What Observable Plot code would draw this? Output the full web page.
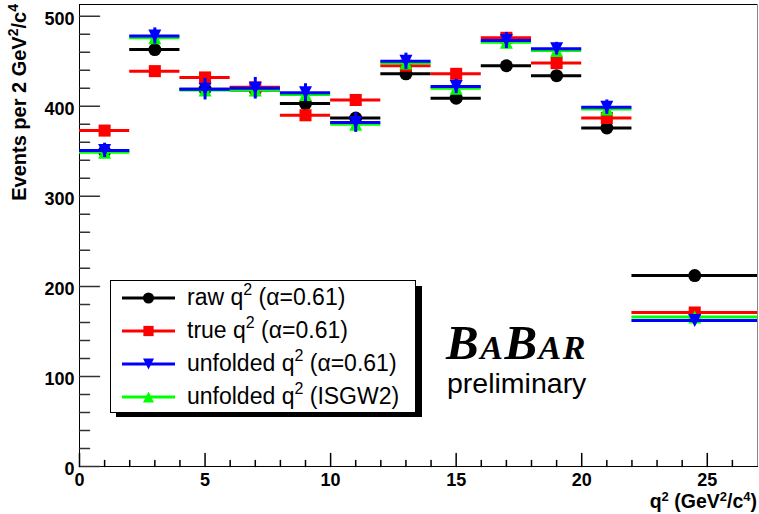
<!DOCTYPE html>
<html><head><meta charset="utf-8">
<script src="https://cdn.jsdelivr.net/npm/d3@7"></script>
<script src="https://cdn.jsdelivr.net/npm/@observablehq/plot@0.6"></script>
<style>body{margin:0;background:#fff;} #chart svg{display:block;}</style>
</head><body><div id="chart"></div>
<script>
// ---- data ----
const binLo     = [0, 2, 4, 6, 8, 10, 12, 14, 16, 18, 20, 22];
const binHi     = [2, 4, 6, 8, 10, 12, 14, 16, 18, 20, 22, 27];
const binCenter = [1, 3, 5, 7, 9, 11, 13, 15, 17, 19, 21, 24.5];
const rawQ2      = [350, 463, 419, 418, 403, 387, 436, 409, 445, 434, 376, 212];
const trueQ2     = [373, 439, 432, 421, 390, 407, 445, 436, 476, 448, 387, 171];
const isgw2Q2    = [349, 476, 418, 418, 413, 380, 448, 420, 471, 462, 397, 166];
const unfoldedQ2 = [351, 478, 419, 420, 415, 382, 450, 422, 473, 464, 399, 162];
const unfoldedErr = [8, 9, 12, 12, 10, 11, 9, 8, 9, 7, 8, 4];
const xDomain = [0, 27];
const yDomain = [0, 513];
const xMajorTicks = [0, 5, 10, 15, 20, 25];
const xMinorTicks = d3.range(1, 27).filter(v => v % 5 !== 0);
const yMajorTicks = [0, 100, 200, 300, 400, 500];
const yMinorTicks = d3.range(20, 513, 20).filter(v => v % 100 !== 0);

// ---- symbols ----
const triDown = {draw(ctx, size) { const r = Math.sqrt(size / Math.PI); ctx.moveTo(-r, -r); ctx.lineTo(r, -r); ctx.lineTo(0, r); ctx.closePath(); }};
const triUp   = {draw(ctx, size) { const r = Math.sqrt(size / Math.PI); ctx.moveTo(-r, r); ctx.lineTo(r, r); ctx.lineTo(0, -r); ctx.closePath(); }};
const hTick = {draw(ctx, l) { ctx.moveTo(0, 0); ctx.lineTo(l, 0); }};
const vTick = {draw(ctx, l) { ctx.moveTo(0, 0); ctx.lineTo(0, -l); }};

function rows(values, errs) {
  return values.map((v, i) => ({lo: binLo[i], hi: binHi[i], c: binCenter[i], v, e: errs ? errs[i] : 0}));
}
const series = [
  {data: rows(rawQ2), color: "#000000", symbol: "circle", r: 6.5},
  {data: rows(trueQ2), color: "#ff0000", symbol: "square", r: 6.8},
  {data: rows(isgw2Q2), color: "#00ff00", symbol: triUp, r: 6.5},
  {data: rows(unfoldedQ2, unfoldedErr), color: "#0000ff", symbol: triDown, r: 6.5, err: true}
];

const FONT = "Liberation Sans, Arial, Helvetica, sans-serif";
const marks = [
  Plot.frame({stroke: "#000", strokeWidth: 1}),
  Plot.ruleX([xDomain[1]], {stroke: "#888"}),
  Plot.vectorY(yMajorTicks, {y: d => d, frameAnchor: "left", length: 20, anchor: "start", shape: hTick, stroke: "#333"}),
  Plot.vectorY(yMinorTicks, {y: d => d, frameAnchor: "left", length: 10, anchor: "start", shape: hTick, stroke: "#333"}),
  Plot.vectorX(xMajorTicks, {x: d => d, frameAnchor: "bottom", length: 13, anchor: "start", shape: vTick, stroke: "#000"}),
  Plot.vectorX(xMinorTicks, {x: d => d, frameAnchor: "bottom", length: 6, anchor: "start", shape: vTick, stroke: "#000"}),
  Plot.axisY(yMajorTicks, {tickSize: 0, tickPadding: 5, dy: 3, fontSize: 18, fontWeight: "bold", fontFamily: FONT, label: null}),
  Plot.axisX(xMajorTicks, {tickSize: 0, tickPadding: 7, fontSize: 18, fontWeight: "bold", fontFamily: FONT, label: null})
];
for (const s of series) {
  marks.push(Plot.ruleY(s.data, {y: "v", x1: "lo", x2: "hi", stroke: s.color, strokeWidth: 3}));
  if (s.err) marks.push(Plot.ruleX(s.data, {x: "c", y1: d => d.v - d.e, y2: d => d.v + d.e, stroke: s.color, strokeWidth: 3}));
  marks.push(Plot.dot(s.data, {x: "c", y: "v", r: s.r, symbol: s.symbol, fill: s.color, stroke: "none"}));
}

const chart = Plot.plot({
  width: 759, height: 514,
  marginLeft: 79, marginRight: 2, marginTop: 4, marginBottom: 48,
  style: {background: "#fff", color: "#000"},
  x: {domain: xDomain, axis: null},
  y: {domain: yDomain, axis: null},
  marks
});
document.getElementById("chart").appendChild(chart);

// ---- annotations (text) ----
const svg = d3.select(chart);
function rich(g, x, y, parts, size, attrs = {}, raiseK = 0.42) {
  const t = g.append("text").attr("x", x).attr("y", y).attr("font-size", size)
    .attr("font-family", FONT).attr("fill", "#000").attr("text-anchor", "start");
  for (const k in attrs) t.attr(k, attrs[k]);
  let raised = 0;
  for (const p of parts) {
    const sp = t.append("tspan");
    if (typeof p === "string") {
      if (raised) { sp.attr("dy", raised); raised = 0; }
      sp.text(p);
    } else {
      const s = Math.round(size * raiseK);
      sp.attr("dy", -s).attr("font-size", Math.round(size * 0.68)).text(p.sup);
      raised = s;
    }
  }
  return t;
}

// Y axis title
rich(svg, 0, 0, ["Events per 2 GeV", {sup: "2"}, "/c", {sup: "4"}, ""], 20,
  {"font-weight": "bold", "text-anchor": "end", transform: "translate(26,4) rotate(-90)"});
// X axis title
rich(svg, 757, 508, ["q", {sup: "2"}, " (GeV", {sup: "2"}, "/c", {sup: "4"}, ")"], 19.5,
  {"font-weight": "bold", "text-anchor": "end"}, 0.34);

// Legend
const lg = svg.append("g");
lg.append("rect").attr("x", 116).attr("y", 286).attr("width", 306).attr("height", 131).attr("fill", "#000");
lg.append("rect").attr("x", 110.5).attr("y", 280.5).attr("width", 305).attr("height", 132).attr("fill", "#fff").attr("stroke", "#000");
const legendLabels = [
  ["raw q", {sup: "2"}, " (\u03b1=0.61)"],
  ["true q", {sup: "2"}, " (\u03b1=0.61)"],
  ["unfolded q", {sup: "2"}, " (\u03b1=0.61)"],
  ["unfolded q", {sup: "2"}, " (ISGW2)"]
];
const legendSeries = [series[0], series[1], series[3], series[2]];
const rowY = [298, 331, 364, 397];
legendSeries.forEach((s, i) => {
  const y = rowY[i];
  lg.append("line").attr("x1", 122).attr("x2", 175).attr("y1", y).attr("y2", y).attr("stroke", s.color).attr("stroke-width", 3);
  const sym = typeof s.symbol === "string" ? (s.symbol === "circle" ? d3.symbolCircle : d3.symbolSquare) : s.symbol;
  const size = Math.PI * (s.r * 0.85) ** 2;
  lg.append("path").attr("d", d3.symbol(sym, size)()).attr("transform", `translate(148.5,${y})`).attr("fill", s.color);
  rich(lg, 187, y + 7, legendLabels[i], 23);
});

// BABAR logo + preliminary
const logo = svg.append("text").attr("x", 446).attr("y", 359).attr("text-anchor", "start")
  .attr("font-family", "Liberation Serif, Times New Roman, serif").attr("font-weight", "bold").attr("font-style", "italic").attr("fill", "#000");
[["B", 49], ["A", 34], ["B", 49], ["AR", 34]].forEach(([t, s]) => logo.append("tspan").attr("font-size", s).attr("letter-spacing", 1.5).text(t));
svg.append("text").attr("x", 447).attr("y", 393).attr("text-anchor", "start")
  .attr("font-family", FONT).attr("font-size", 28.5).attr("fill", "#000").text("preliminary");
</script>
</body></html>
